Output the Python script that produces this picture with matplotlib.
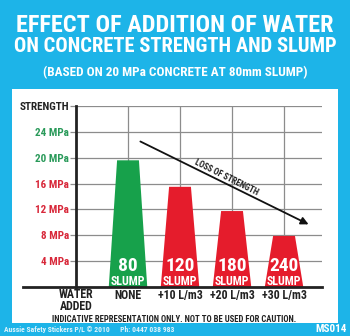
import matplotlib
matplotlib.use('Agg')
import matplotlib.pyplot as plt
from matplotlib import font_manager
from matplotlib.patches import Rectangle

# data
slump = ['80', '120', '180', '240']
water_added = ['NONE', '+10 L/m3', '+20 L/m3', '+30 L/m3']
strength = [19.6, 15.5, 11.75, 7.9]
ytick_vals = [4, 8, 12, 16, 20, 24, 28]
ytick_labels = ['4 MPa', '8 MPa', '12 MPa', '16 MPa', '20 MPa', '24 MPa', 'STRENGTH']

BLUE = '#1db4e8'
GREEN = '#17a14b'
RED = '#e51c2c'
GREEN_TXT = '#2a9a5a'
RED_TXT = '#d8283a'
bar_colors = [GREEN, RED, RED, RED]
ytick_colors = [RED_TXT, RED_TXT, RED_TXT, RED_TXT, GREEN_TXT, GREEN_TXT, '#222222']


def pick_font():
    bold = {}
    for f in font_manager.fontManager.ttflist:
        if f.weight in (700, 'bold') and f.style == 'normal':
            bold[f.name] = True
    for fam in ['Roboto Condensed', 'Barlow Condensed', 'Asap Condensed', 'Archivo Narrow']:
        if fam in bold:
            return fam
    return 'DejaVu Sans'


COND = pick_font()
plt.rcParams['font.family'] = [COND, 'DejaVu Sans']
plt.rcParams['font.weight'] = 'bold'

W, H = 350, 336


def fx(px):
    return px / W


def fy(py):
    return 1 - py / H


fig = plt.figure(figsize=(3.5, 3.36), dpi=100, facecolor=BLUE)

# white panel
fig.patches.append(Rectangle((fx(12), fy(323)), fx(338) - fx(12), fy(89) - fy(323),
                             transform=fig.transFigure, facecolor='white', edgecolor='none', zorder=-5))

# titles
fig.text(0.5, fy(25), 'EFFECT OF ADDITION OF WATER', ha='center', va='center',
         color='white', fontsize=17.5)
fig.text(0.5, fy(46), 'ON CONCRETE STRENGTH AND SLUMP', ha='center', va='center',
         color='white', fontsize=14.8)
fig.text(0.5, fy(73), '(BASED ON 20 MPa CONCRETE AT 80mm SLUMP)', ha='center', va='center',
         color='white', fontsize=9.5)

ax = fig.add_axes([fx(76), fy(287), fx(322) - fx(76), fy(106) - fy(287)])
ax.set_xlim(-1, 3.73)
ax.set_ylim(0, 28)
ax.patch.set_alpha(0)
for s in ['top', 'right', 'bottom']:
    ax.spines[s].set_visible(False)
ax.spines['left'].set_linewidth(2)
ax.spines['left'].set_color('#222222')

x = list(range(len(strength)))
for v in ytick_vals:
    ax.plot([-1, 3.73], [v, v], color='#8c8c8c', lw=0.9, zorder=1)
for xi in x:
    ax.plot([xi, xi], [0, 28], color='#8c8c8c', lw=0.9, zorder=1)

ax.set_yticks(ytick_vals)
ax.set_yticklabels(ytick_labels, fontsize=8)
for lab, c in zip(ax.get_yticklabels(), ytick_colors):
    lab.set_color(c)
ax.tick_params(axis='y', length=4, width=0.9, color='#8c8c8c', pad=1)
ax.set_xticks([])

# trapezoid bars
for xi, v, c, s in zip(x, strength, bar_colors, slump):
    ax.fill([xi - 0.37, xi - 0.21, xi + 0.21, xi + 0.37], [0, v, v, 0], color=c, lw=0, zorder=2)
    ax.text(xi, 2.45, s, ha='center', va='baseline', color='white', fontsize=14, zorder=3)
    ax.text(xi, 0.35, 'SLUMP', ha='center', va='baseline', color='white', fontsize=8.6, zorder=3)
    ax.text(xi, -1.3, water_added[xi], ha='center', va='center', color='#222222', fontsize=8.6,
            clip_on=False)

ax.text(-1, -2.05, 'WATER\nADDED', ha='center', va='center', color='#222222', fontsize=8.6,
        linespacing=0.95)

# baseline
ax.plot([-2.02, 3.73], [0, 0], color='#222222', lw=2, clip_on=False, zorder=4)

# loss of strength arrow
ax.annotate('', xy=(3.52, 9.5), xytext=(0.19, 22.7),
            arrowprops=dict(arrowstyle='-|>', color='#111111', lw=1.3, mutation_scale=11), zorder=5)
ax.text(1.9, 17.0, 'LOSS OF STRENGTH', ha='center', va='center', fontsize=6.2,
        color='#222222', rotation=-26.6, rotation_mode='anchor')

fig.text(fx(174), fy(319), 'INDICATIVE REPRESENTATION ONLY. NOT TO BE USED FOR CAUTION.',
         ha='center', va='center', color='#222222', fontsize=6.2)
fig.text(fx(4), fy(329.5), 'Aussie Safety Stickers P/L \u00a9 2010      Ph: 0447 038 983',
         ha='left', va='center', color='#dff4fc', fontsize=5.5)
fig.text(fx(347), fy(329.5), 'MS014', ha='right', va='center', color='white', fontsize=8)

fig.savefig('out.png', dpi=100, facecolor=BLUE)
